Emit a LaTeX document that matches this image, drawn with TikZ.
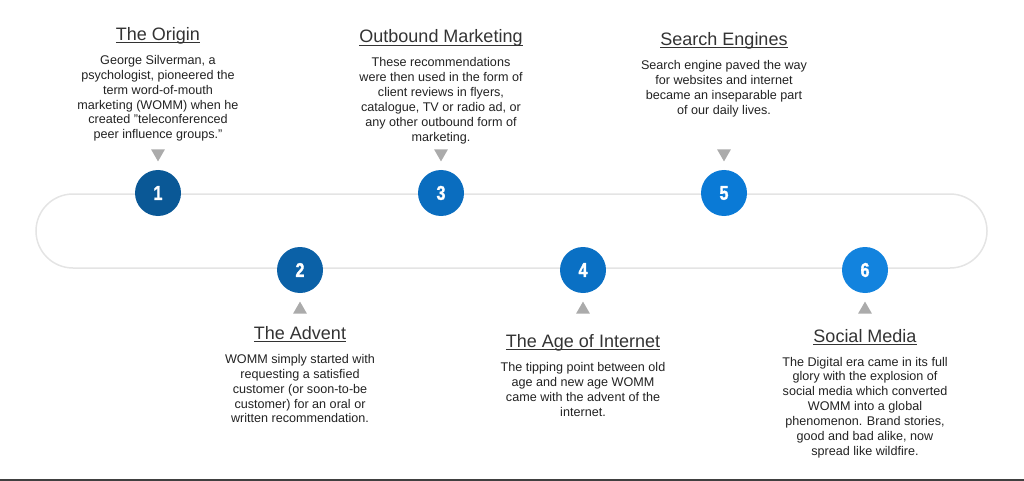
\documentclass[tikz,border=0pt]{standalone}
\usepackage{fontspec}
\setmainfont{Liberation Sans}
\newfontfamily\numfont[FakeStretch=0.8, FakeBold=1.5]{Liberation Sans Bold}
\usetikzlibrary{shapes.geometric, positioning}
\definecolor{trackgray}{HTML}{E4E4E4}
\definecolor{markgray}{HTML}{ABABAB}
\definecolor{titlegray}{HTML}{333333}
\definecolor{bodygray}{HTML}{222222}
\definecolor{blueA}{HTML}{0A5896}
\definecolor{blueB}{HTML}{0B61A7}
\definecolor{blueC}{HTML}{0A6DBF}
\definecolor{blueD}{HTML}{0A70C4}
\definecolor{blueE}{HTML}{0A7AD6}
\definecolor{blueF}{HTML}{1283DE}
\tikzstyle{num} = [circle, minimum size=46pt, inner sep=0pt, text=white, font=\numfont\fontsize{20}{20}\selectfont]
\tikzstyle{pointdown} = [regular polygon, regular polygon sides=3, shape border rotate=180, minimum size=16pt, inner sep=0pt, fill=markgray]
\tikzstyle{pointup} = [regular polygon, regular polygon sides=3, minimum size=16pt, inner sep=0pt, fill=markgray]
\tikzstyle{heading} = [anchor=base, inner sep=0pt, text=titlegray, font=\fontsize{18}{20}\selectfont]
\tikzstyle{rule} = [titlegray, line width=0.9pt]
\tikzstyle{desc} = [anchor=north, inner sep=0pt, align=center, text=bodygray, font=\fontsize{12.6}{14.9}\selectfont]

\begin{document}
\begin{tikzpicture}[x=1pt, y=-1pt]
\useasboundingbox (0,0) rectangle (1024,481);
\draw [trackgray, line width=1.5pt, rounded corners=37pt] (36,194) rectangle (987,268);
\draw [black!75, line width=1.5pt] (0,480) -- (1024,480);

\node (c1) [num, fill=blueA] at (158,193) {1};
\node (c2) [num, fill=blueB] at (300,270) {2};
\node (c3) [num, fill=blueC] at (441,193) {3};
\node (c4) [num, fill=blueD] at (583,270) {4};
\node (c5) [num, fill=blueE] at (724,193) {5};
\node (c6) [num, fill=blueF] at (865,270) {6};

\node (p1) [pointdown, above=8pt of c1] {};
\node (p3) [pointdown, above=8pt of c3] {};
\node (p5) [pointdown, above=8pt of c5] {};
\node (p2) [pointup, below=8pt of c2] {};
\node (p4) [pointup, below=8pt of c4] {};
\node (p6) [pointup, below=8pt of c6] {};

\node (origin) [heading] at (158,40.6) {The Origin};
\node (origintext) [desc] at (158,55) {George Silverman, a\\psychologist, pioneered the\\term word-of-mouth\\marketing (WOMM) when he\\created "teleconferenced\\peer influence groups."};

\node (outbound) [heading] at (441,43) {Outbound Marketing};
\node (outboundtext) [desc] at (441,57.5) {These recommendations\\were then used in the form of\\client reviews in flyers,\\catalogue, TV or radio ad, or\\any other outbound form of\\marketing.};

\node (search) [heading] at (724,45.5) {Search Engines};
\node (searchtext) [desc] at (724,60) {Search engine paved the way\\for websites and internet\\became an inseparable part\\of our daily lives.};

\node (advent) [heading] at (300,339.3) {The Advent};
\node (adventtext) [desc] at (300,354) {WOMM simply started with\\requesting a satisfied\\customer (or soon-to-be\\customer) for an oral or\\written recommendation.};

\node (internet) [heading] at (583,347.3) {The Age of Internet};
\node (internettext) [desc] at (583,362) {The tipping point between old\\age and new age WOMM\\came with the advent of the\\internet.};

\node (social) [heading] at (865,342) {Social Media};
\node (socialtext) [desc] at (865,356.7) {The Digital era came in its full\\glory with the explosion of\\social media which converted\\WOMM into a global\\phenomenon. Brand stories,\\good and bad alike, now\\spread like wildfire.};

% underlines of the headings
\draw [rule] ([yshift=-2pt]origin.base west) -- ([yshift=-2pt]origin.base east);
\draw [rule] ([yshift=-2pt]outbound.base west) -- ([yshift=-2pt]outbound.base east);
\draw [rule] ([yshift=-2pt]search.base west) -- ([yshift=-2pt]search.base east);
\draw [rule] ([yshift=-2pt]advent.base west) -- ([yshift=-2pt]advent.base east);
\draw [rule] ([yshift=-2pt]internet.base west) -- ([yshift=-2pt]internet.base east);
\draw [rule] ([yshift=-2pt]social.base west) -- ([yshift=-2pt]social.base east);
\end{tikzpicture}
\end{document}
